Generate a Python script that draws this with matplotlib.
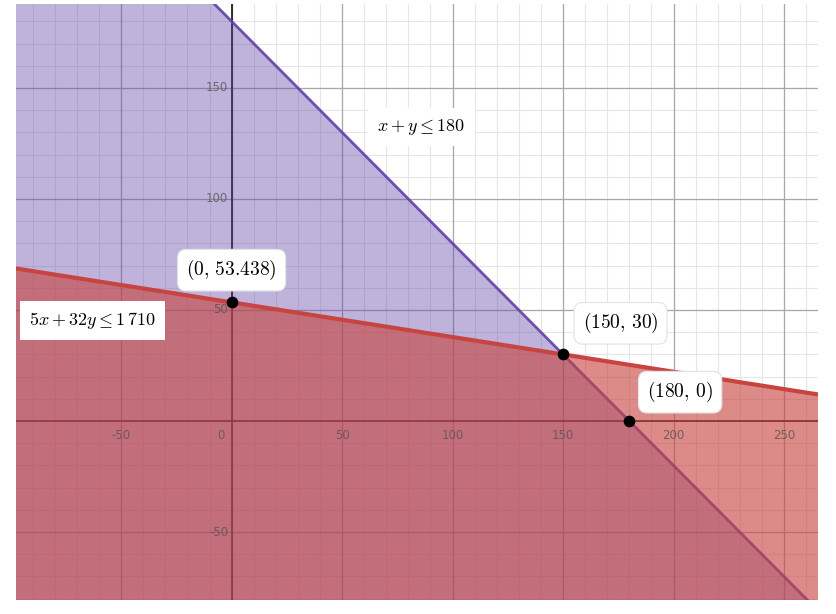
import matplotlib.pyplot as plt
import numpy as np

# ograniczenia: a*x + b*y <= c
purple_ineq = (1, 1, 180)
red_ineq = (5, 32, 1710)
purple_label = r"$x + y \leq 180$"
red_label = r"$5x + 32y \leq 1\,710$"

# punkty przecięcia
pts_x = [0, 150, 180]
pts_y = [53.438, 30, 0]
pts_labels = [r"$(0,\, 53.438)$", r"$(150,\, 30)$", r"$(180,\, 0)$"]

xticks_major = [-50, 0, 50, 100, 150, 200, 250]
yticks_major = [-50, 50, 100, 150]

xmin, xmax = -97.6, 265.4
ymin, ymax = -80.6, 187.8

purple = "#6042a6"
red = "#c74440"

plt.rcParams['mathtext.fontset'] = 'cm'

fig = plt.figure(figsize=(8.37, 6.14), dpi=100)
ax = fig.add_axes([16 / 837, 14 / 614, 802 / 837, 596 / 614])
ax.set_xlim(xmin, xmax)
ax.set_ylim(ymin, ymax)
for s in ax.spines.values():
    s.set_visible(False)
ax.set_xticks([])
ax.set_yticks([])

# siatka
for v in np.arange(-90, 270, 10):
    ax.axvline(v, color="#e6e6e6", lw=0.8, zorder=0)
for v in np.arange(-80, 190, 10):
    ax.axhline(v, color="#e6e6e6", lw=0.8, zorder=0)
for v in xticks_major:
    ax.axvline(v, color="#a8a8a8", lw=0.9, zorder=0.5)
for v in yticks_major:
    ax.axhline(v, color="#a8a8a8", lw=0.9, zorder=0.5)
ax.axvline(0, color="#222222", lw=1.3, zorder=0.6)
ax.axhline(0, color="#222222", lw=1.3, zorder=0.6)

# obszary
xs = np.array([xmin - 20, xmax + 20])
a, b, c = purple_ineq
ax.fill_between(xs, ymin - 50, (c - a * xs) / b, color=purple, alpha=0.4, lw=0, zorder=1)
ax.plot(xs, (c - a * xs) / b, color=purple, lw=2.0, alpha=0.9, zorder=1.2)
a, b, c = red_ineq
ax.fill_between(xs, ymin - 50, (c - a * xs) / b, color=red, alpha=0.62, lw=0, zorder=1.5)
ax.plot(xs, (c - a * xs) / b, color=red, lw=3.0, zorder=3)

# etykiety osi
for v in xticks_major:
    if v == 0:
        ax.text(v - 3, -3.5, "0", ha="right", va="top", color="#555555", fontsize=8.5, alpha=0.8, zorder=4)
    else:
        ax.text(v, -3.5, str(v), ha="center", va="top", color="#555555", fontsize=8.5, alpha=0.8, zorder=4)
for v in yticks_major:
    ax.text(-1.5, v, str(v), ha="right", va="center", color="#555555", fontsize=8.5, alpha=0.8, zorder=4)

# punkty
ax.scatter(pts_x, pts_y, s=55, color="black", zorder=5)
box = dict(boxstyle="round,pad=0.45", fc="white", ec="#e2e2e2", lw=0.8)
offsets = [(0, 14.5), (26, 14), (23, 13)]
for px, py, lab, off in zip(pts_x, pts_y, pts_labels, offsets):
    ax.text(px + off[0], py + off[1], lab, ha="center", va="center", fontsize=14, bbox=box, zorder=6)

ax.text(86, 132.5, purple_label, ha="center", va="center", fontsize=13,
        bbox=dict(boxstyle="square,pad=0.5", fc="white", ec="none"), zorder=6)
ax.text(-63, 45.3, red_label, ha="center", va="center", fontsize=13,
        bbox=dict(boxstyle="square,pad=0.5", fc="white", ec="none"), zorder=6)

fig.savefig("out.png", dpi=100)
